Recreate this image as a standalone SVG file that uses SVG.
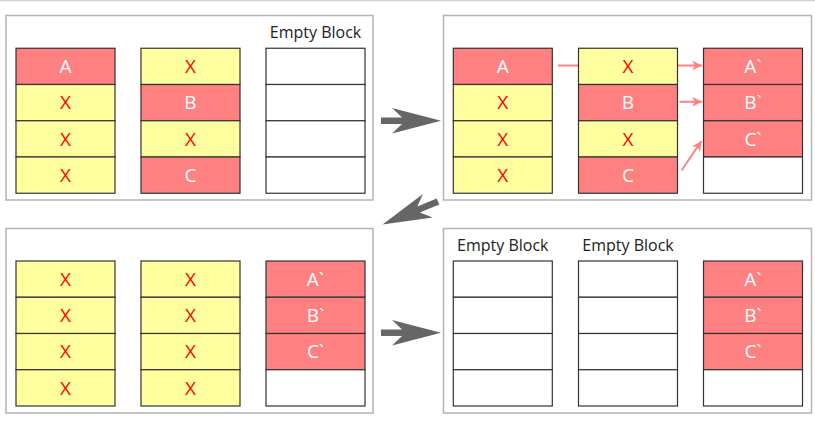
<svg xmlns="http://www.w3.org/2000/svg" width="815" height="426" viewBox="0 0 815 426">
<defs>
<style>
.panel{fill:#fff;stroke:#b3b3b3;stroke-width:1.5}
.r{fill:#ff8080;stroke:#333;stroke-width:1.2}
.y{fill:#ffffa0;stroke:#333;stroke-width:1.2}
.e{fill:#fff;stroke:#333;stroke-width:1.2}
.tw{font-family:"Open Sans","Noto Sans",sans-serif;font-size:19px;fill:#fff;text-anchor:middle}
.tx{font-family:"Open Sans","Noto Sans",sans-serif;font-size:19px;fill:#ff0000;text-anchor:middle}
.lbl{font-family:"Open Sans","Noto Sans",sans-serif;font-size:16px;fill:#222;text-anchor:middle}
.big{fill:#666}
.pink{stroke:#ff8080;stroke-width:2;fill:none;marker-end:url(#ph)}
</style>
<marker id="ph" viewBox="0 0 10 10" refX="10" refY="5" markerWidth="6" markerHeight="5" orient="auto" markerUnits="strokeWidth">
<path d="M0,0 L10,5 L0,10 L3,5 Z" fill="#ff8080"/>
</marker>
<path id="bigarrow" d="M0,-3.3 H21 L11,-12.8 L60,0 L11,12.8 L21,3.3 H0 Z"/>
</defs>
<rect width="815" height="426" fill="#fff"/>
<line x1="0" y1="0.5" x2="815" y2="0.5" stroke="#d0d0d0" stroke-width="1.5"/>

<g id="panel1">
<rect class="panel" x="6" y="15.5" width="367" height="184.5"/>
<text class="lbl" x="315.5" y="38">Empty Block</text>
<g id="p1c1">
<rect class="r" x="16" y="48.25" width="99" height="36.25"/><text class="tw" x="65.5" y="73">A</text>
<rect class="y" x="16" y="84.5" width="99" height="36.25"/><text class="tx" x="65.5" y="109.25">X</text>
<rect class="y" x="16" y="120.75" width="99" height="36.25"/><text class="tx" x="65.5" y="145.5">X</text>
<rect class="y" x="16" y="157" width="99" height="36.25"/><text class="tx" x="65.5" y="181.75">X</text>
</g>
<g id="p1c2">
<rect class="y" x="141" y="48.25" width="99" height="36.25"/><text class="tx" x="190.5" y="73">X</text>
<rect class="r" x="141" y="84.5" width="99" height="36.25"/><text class="tw" x="190.5" y="109.25">B</text>
<rect class="y" x="141" y="120.75" width="99" height="36.25"/><text class="tx" x="190.5" y="145.5">X</text>
<rect class="r" x="141" y="157" width="99" height="36.25"/><text class="tw" x="190.5" y="181.75">C</text>
</g>
<g id="p1c3">
<rect class="e" x="266" y="48.25" width="99" height="36.25"/>
<rect class="e" x="266" y="84.5" width="99" height="36.25"/>
<rect class="e" x="266" y="120.75" width="99" height="36.25"/>
<rect class="e" x="266" y="157" width="99" height="36.25"/>
</g>
</g>

<g id="panel2">
<rect class="panel" x="443.5" y="15.5" width="368" height="184.5"/>
</g>

<g id="connectors">
<use href="#bigarrow" class="big" transform="translate(381,120.7)"/>
<use href="#bigarrow" class="big" transform="translate(438,201.5) rotate(157.5)"/>
<use href="#bigarrow" class="big" transform="translate(381,332.7)"/>
<line class="pink" x1="558" y1="65.5" x2="702" y2="65.5"/>
<line class="pink" x1="679.5" y1="101.8" x2="702" y2="101.8"/>
<line class="pink" x1="681.5" y1="170.5" x2="701.5" y2="141"/>
</g>

<g id="panel2cells">
<g id="p2c1">
<rect class="r" x="453.3" y="48.25" width="99" height="36.25"/><text class="tw" x="502.8" y="73">A</text>
<rect class="y" x="453.3" y="84.5" width="99" height="36.25"/><text class="tx" x="502.8" y="109.25">X</text>
<rect class="y" x="453.3" y="120.75" width="99" height="36.25"/><text class="tx" x="502.8" y="145.5">X</text>
<rect class="y" x="453.3" y="157" width="99" height="36.25"/><text class="tx" x="502.8" y="181.75">X</text>
</g>
<g id="p2c2">
<rect class="y" x="578.5" y="48.25" width="99" height="36.25"/><text class="tx" x="628" y="73">X</text>
<rect class="r" x="578.5" y="84.5" width="99" height="36.25"/><text class="tw" x="628" y="109.25">B</text>
<rect class="y" x="578.5" y="120.75" width="99" height="36.25"/><text class="tx" x="628" y="145.5">X</text>
<rect class="r" x="578.5" y="157" width="99" height="36.25"/><text class="tw" x="628" y="181.75">C</text>
</g>
<g id="p2c3">
<rect class="r" x="703.5" y="48.25" width="99" height="36.25"/><text class="tw" x="753" y="73">A`</text>
<rect class="r" x="703.5" y="84.5" width="99" height="36.25"/><text class="tw" x="753" y="109.25">B`</text>
<rect class="r" x="703.5" y="120.75" width="99" height="36.25"/><text class="tw" x="753" y="145.5">C`</text>
<rect class="e" x="703.5" y="157" width="99" height="36.25"/>
</g>
</g>

<g id="panel3">
<rect class="panel" x="6" y="228.5" width="367" height="184.5"/>
<g id="p3c1">
<rect class="y" x="16" y="261" width="99" height="36.25"/><text class="tx" x="65.5" y="285.75">X</text>
<rect class="y" x="16" y="297.25" width="99" height="36.25"/><text class="tx" x="65.5" y="322">X</text>
<rect class="y" x="16" y="333.5" width="99" height="36.25"/><text class="tx" x="65.5" y="358.25">X</text>
<rect class="y" x="16" y="369.75" width="99" height="36.25"/><text class="tx" x="65.5" y="394.5">X</text>
</g>
<g id="p3c2">
<rect class="y" x="141" y="261" width="99" height="36.25"/><text class="tx" x="190.5" y="285.75">X</text>
<rect class="y" x="141" y="297.25" width="99" height="36.25"/><text class="tx" x="190.5" y="322">X</text>
<rect class="y" x="141" y="333.5" width="99" height="36.25"/><text class="tx" x="190.5" y="358.25">X</text>
<rect class="y" x="141" y="369.75" width="99" height="36.25"/><text class="tx" x="190.5" y="394.5">X</text>
</g>
<g id="p3c3">
<rect class="r" x="266" y="261" width="99" height="36.25"/><text class="tw" x="315.5" y="285.75">A`</text>
<rect class="r" x="266" y="297.25" width="99" height="36.25"/><text class="tw" x="315.5" y="322">B`</text>
<rect class="r" x="266" y="333.5" width="99" height="36.25"/><text class="tw" x="315.5" y="358.25">C`</text>
<rect class="e" x="266" y="369.75" width="99" height="36.25"/>
</g>
</g>

<g id="panel4">
<rect class="panel" x="443.5" y="228.5" width="368" height="184.5"/>
<text class="lbl" x="502.8" y="251">Empty Block</text>
<text class="lbl" x="628" y="251">Empty Block</text>
<g id="p4c1">
<rect class="e" x="453.3" y="261" width="99" height="36.25"/>
<rect class="e" x="453.3" y="297.25" width="99" height="36.25"/>
<rect class="e" x="453.3" y="333.5" width="99" height="36.25"/>
<rect class="e" x="453.3" y="369.75" width="99" height="36.25"/>
</g>
<g id="p4c2">
<rect class="e" x="578.5" y="261" width="99" height="36.25"/>
<rect class="e" x="578.5" y="297.25" width="99" height="36.25"/>
<rect class="e" x="578.5" y="333.5" width="99" height="36.25"/>
<rect class="e" x="578.5" y="369.75" width="99" height="36.25"/>
</g>
<g id="p4c3">
<rect class="r" x="703.5" y="261" width="99" height="36.25"/><text class="tw" x="753" y="285.75">A`</text>
<rect class="r" x="703.5" y="297.25" width="99" height="36.25"/><text class="tw" x="753" y="322">B`</text>
<rect class="r" x="703.5" y="333.5" width="99" height="36.25"/><text class="tw" x="753" y="358.25">C`</text>
<rect class="e" x="703.5" y="369.75" width="99" height="36.25"/>
</g>
</g>
</svg>
